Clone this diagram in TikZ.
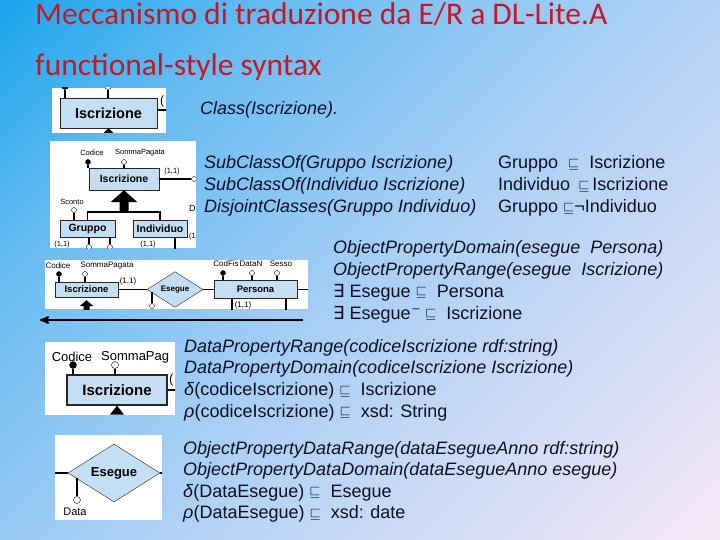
\documentclass[tikz,border=0pt]{standalone}
\usepackage{fontspec}
\setmainfont{Liberation Sans}
\newfontfamily\titlefont{Carlito}
\newfontfamily\symfont{DejaVu Sans}
\usepackage{tikz}
\usetikzlibrary{arrows}
\usetikzlibrary{calc}
\usetikzlibrary{positioning}
\usetikzlibrary{shapes.geometric}

\definecolor{titlered}{RGB}{196,24,38}
\definecolor{bodyink}{RGB}{12,16,38}
\definecolor{erfill}{RGB}{196,222,244}
\definecolor{bgblue}{RGB}{26,165,236}
\definecolor{bgmid}{RGB}{166,206,245}
\definecolor{bgpink}{RGB}{247,232,247}
\colorlet{bgsky}{bgmid!55!bgblue}

\pgfdeclareverticalshading{slidebg}{100bp}{%
  color(0bp)=(bgpink); color(14.6bp)=(bgpink); color(50bp)=(bgmid);
  color(70bp)=(bgsky); color(85.4bp)=(bgblue); color(100bp)=(bgblue)}

\newcommand{\incl}{{\fontsize{14}{14}\selectfont\raisebox{0.5pt}{$\sqsubseteq$}}}
\newcommand{\exi}{{\symfont\itshape ∃}}

\begin{document}
\begin{tikzpicture}[x=1pt, y=-1pt, >=stealth']

    % TikZ styles for drawing %%%%%%%%%%%%%%%%%%%%%%%%%%%%%%%%%%%%%%%%%%%%%%%%%%%%%%
    \tikzstyle{shot} = [fill=white]
    \tikzstyle{entity} = [draw=black!85,fill=erfill,rectangle,inner sep=0pt]
    \tikzstyle{relation} = [draw=black!85,fill=erfill,diamond,inner sep=0pt]
    \tikzstyle{keyattr} = [circle,fill=black,draw=black,inner sep=0pt]
    \tikzstyle{attr} = [circle,fill=white,draw=black,inner sep=0pt]
    \tikzstyle{tag} = [inner sep=0pt]
    \tikzstyle{line} = [black,line width=1.2pt]
    \tikzstyle{isa} = [fill=black]
    \tikzstyle{connector} = [->,line width=2pt]
    \tikzstyle{title} = [anchor=base west,inner sep=0pt,text=titlered,font=\titlefont\fontsize{31.5}{36}\selectfont]
    \tikzstyle{plain} = [anchor=base west,inner sep=0pt,text=bodyink,font=\fontsize{18}{21}\selectfont]
    \tikzstyle{owl} = [anchor=base west,inner sep=0pt,text=bodyink,font=\fontsize{18}{21}\selectfont\itshape]

    % Slide background %%%%%%%%%%%%%%%%%%%%%%%%%%%%%%%%%%%%%%%%%%%%%%%%%%%%%%%%%%%%%%%%
    \shade[shading=slidebg, shading angle=45] (0,0) rectangle (720,540);
    \useasboundingbox (0,0) rectangle (720,540);

    \node[title] (head1) at (35,25) {Meccanismo di traduzione da E/R a DL-Lite.A};
    \node[title] (head2) at (35,76) {functional-style syntax};

    % Picture 1: the entity alone %%%%%%%%%%%%%%%%%%%%%%%%%%%%%%%%%%%%%%%%%%%%%%%%%%%%
    \begin{scope}[font=\fontsize{12}{14}\selectfont, entity/.append style={font=\bfseries\fontsize{14.5}{17}\selectfont}]
      \clip (52,88) rectangle (166,133);
      \fill[shot] (52,88) rectangle (166,133);
      \node[entity, minimum width=97, minimum height=30] (isc1) at (108.5,113) {Iscrizione};
      \node[keyattr, minimum size=7] (codice1) at (65,86) {};
      \node[attr, minimum size=7] (somma1) at (108,86) {};
      \coordinate (out1) at (168,110);
      \draw[line] (codice1) -- (codice1 |- isc1.north);
      \draw[line] (somma1) -- (somma1 |- isc1.north);
      \draw[line] (isc1.east |- out1) -- (out1);
      \node[tag, anchor=west] (card1) at (160,101) {(};
      \fill[isa] (isc1.south) -- ++(-8,8) -- ++(16,0) -- cycle;
    \end{scope}

    % Picture 2: generalization %%%%%%%%%%%%%%%%%%%%%%%%%%%%%%%%%%%%%%%%%%%%%%%%%%%%%
    \begin{scope}[font=\fontsize{7.5}{9}\selectfont, entity/.append style={font=\bfseries\fontsize{10.5}{12}\selectfont}]
      \clip (50,141) rectangle (196,248);
      \fill[shot] (50,141) rectangle (196,248);
      \node[entity, minimum width=70, minimum height=22] (isc2) at (124,179) {Iscrizione};
      \node[entity, minimum width=55, minimum height=17] (grp2) at (87.5,228.5) {Gruppo};
      \node[entity, minimum width=54, minimum height=17] (ind2) at (160,228.5) {Individuo};
      \node[keyattr, minimum size=5] (codice2) at (88,162) {};
      \node[attr, minimum size=5] (somma2) at (124,162) {};
      \node[attr, minimum size=5] (sconto2) at (74,210) {};
      \node[attr, minimum size=5] (rel2) at (194,179) {};
      \node[attr, minimum size=5] (low2a) at (89,247) {};
      \node[attr, minimum size=5] (low2b) at (110,247) {};
      \coordinate (hub2) at ($(isc2.south)+(0,22)$);
      \coordinate (low2c) at (175,250);
      \draw[line] (codice2) -- (codice2 |- isc2.north);
      \draw[line] (somma2) -- (somma2 |- isc2.north);
      \draw[line] (sconto2) -- (sconto2 |- grp2.north);
      \draw[line] (isc2.east) -- (rel2);
      \draw[line] (low2a) -- (low2a |- grp2.south);
      \draw[line] (low2b) -- (low2b |- grp2.south);
      \draw[line] (low2c) -- (low2c |- ind2.south);
      \draw[line, line width=1.6pt] (grp2.north) |- (hub2) -| (ind2.north);
      \fill[isa] (isc2.south) -- ++(-13.5,12) -- ++(9,0) -- ++(0,10) -- ++(9,0) -- ++(0,-10) -- ++(9,0) -- cycle;
      \node[tag] (codlab2) at (92,153) {Codice};
      \node[tag] (somlab2) at (140,153) {SommaPagata};
      \node[tag] (scolab2) at (72,202) {Sconto};
      \node[tag] (card2a) at (172,172) {(1,1)};
      \node[tag] (card2b) at (62,245) {(1,1)};
      \node[tag] (card2c) at (148,245) {(1,1)};
      \node[tag, anchor=west, font=\fontsize{9}{10}\selectfont] (dlab2) at (189,208) {D};
      \node[tag, anchor=west] (card2d) at (189,237) {(1};
    \end{scope}

    % Picture 3: the relationship %%%%%%%%%%%%%%%%%%%%%%%%%%%%%%%%%%%%%%%%%%%%%%%%%%%%
    \begin{scope}[font=\fontsize{8}{9}\selectfont, entity/.append style={font=\bfseries\fontsize{9.5}{11}\selectfont}, relation/.append style={font=\bfseries\fontsize{8}{10}\selectfont}]
      \clip (45,260) rectangle (308,309);
      \fill[shot] (45,260) rectangle (308,309);
      \node[entity, minimum width=63, minimum height=15] (isc3) at (86.5,289.5) {Iscrizione};
      \node[relation, minimum width=56, minimum height=30] (ese3) at (175,289.5) {Esegue};
      \node[entity, minimum width=83, minimum height=18] (per3) at (255.5,289.5) {Persona};
      \node[keyattr, minimum size=5] (codice3) at (59,274) {};
      \node[attr, minimum size=5] (somma3) at (85,274) {};
      \node[keyattr, minimum size=5] (codfis3) at (223,273) {};
      \node[attr, minimum size=5] (datan3) at (252,273) {};
      \node[attr, minimum size=5] (sesso3) at (277,273) {};
      \node[attr, minimum size=5] (data3) at (152,306) {};
      \coordinate (out3) at (310,289.5);
      \coordinate (low3a) at (232,312);
      \coordinate (low3b) at (286,312);
      \draw[line] (isc3) -- (ese3);
      \draw[line] (ese3) -- (per3);
      \draw[line] (per3) -- (out3);
      \draw[line] (codice3) -- (codice3 |- isc3.north);
      \draw[line] (somma3) -- (somma3 |- isc3.north);
      \draw[line] (codfis3) -- (codfis3 |- per3.north);
      \draw[line] (datan3) -- (datan3 |- per3.north);
      \draw[line] (sesso3) -- (sesso3 |- per3.north);
      \draw[line] (data3) -- (data3 |- ese3.186.6);
      \draw[line] (low3a) -- (low3a |- per3.south);
      \draw[line] (low3b) -- (low3b |- per3.south);
      \fill[isa] ($(isc3.south)+(0,3)$) -- ++(-7,6) -- ++(4,0) -- ++(0,5) -- ++(6,0) -- ++(0,-5) -- ++(4,0) -- cycle;
      \node[tag] (codlab3) at (58,266) {Codice};
      \node[tag] (somlab3) at (107,266) {SommaPagata};
      \node[tag] (cflab3) at (226,264) {CodFis};
      \node[tag] (dnlab3) at (251,264) {DataN};
      \node[tag] (sslab3) at (281,264) {Sesso};
      \node[tag] (card3a) at (128,281) {(1,1)};
      \node[tag] (card3b) at (243,305) {(1,1)};
    \end{scope}

    \coordinate (arrowtail) at (303,320);
    \coordinate (arrowtip) at (40,320);
    \draw[connector] (arrowtail) -- (arrowtip);

    % Picture 4: the key attribute %%%%%%%%%%%%%%%%%%%%%%%%%%%%%%%%%%%%%%%%%%%%%%%%%%%
    \begin{scope}[font=\fontsize{13}{15}\selectfont, entity/.append style={font=\bfseries\fontsize{15}{18}\selectfont}, line/.append style={line width=1.8pt}]
      \clip (45,342) rectangle (175,415);
      \fill[shot] (45,342) rectangle (175,415);
      \node[entity, minimum width=100, minimum height=30, line width=1.2pt] (isc4) at (117,390) {Iscrizione};
      \node[keyattr, minimum size=7] (codice4) at (73,365) {};
      \node[attr, minimum size=7] (somma4) at (115,365) {};
      \coordinate (out4) at (177,390);
      \draw[line] (codice4) -- (codice4 |- isc4.north);
      \draw[line] (somma4) -- (somma4 |- isc4.north);
      \draw[line] (isc4.east) -- (out4);
      \fill[isa] (isc4.south) -- ++(-7,9) -- ++(14,0) -- cycle;
      \node[tag] (codlab4) at (72,357) {Codice};
      \node[tag, anchor=west] (somlab4) at (101,357) {SommaPag};
      \node[tag, anchor=west] (card4) at (169,380) {(};
    \end{scope}

    % Picture 5: the relationship attribute %%%%%%%%%%%%%%%%%%%%%%%%%%%%%%%%%%%%%%%%%%
    \begin{scope}[font=\fontsize{11}{13}\selectfont, relation/.append style={font=\bfseries\fontsize{13}{15}\selectfont}, line/.append style={line width=1.6pt}]
      \clip (55,435) rectangle (162,520);
      \fill[shot] (55,435) rectangle (162,520);
      \node[relation, minimum width=92, minimum height=50] (ese5) at (114,473) {Esegue};
      \node[attr, minimum size=7] (data5) at (77,500) {};
      \coordinate (in5) at (53,473);
      \coordinate (out5) at (164,473);
      \draw[line] (in5) -- (ese5.west);
      \draw[line] (ese5.east) -- (out5);
      \draw[line] (data5) -- (data5 |- ese5.187.5);
      \node[tag] (datlab5) at (75,512) {Data};
    \end{scope}

    % Functional-style axioms and DL axioms %%%%%%%%%%%%%%%%%%%%%%%%%%%%%%%%%%%%%%%%%%
    \node[owl] (classdecl) at (200,115) {Class(Iscrizione).};

    \node[owl] (sub1) at (204,169) {SubClassOf(Gruppo Iscrizione)};
    \node[owl] (sub2) at (204,191) {SubClassOf(Individuo Iscrizione)};
    \node[owl] (disj) at (204,213) {DisjointClasses(Gruppo Individuo)};
    \node[plain] (dl1) at (498,169) {Gruppo \ \incl\ \ Iscrizione};
    \node[plain] (dl2) at (498,191) {Individuo \,\incl\,Iscrizione};
    \node[plain] (dl3) at (498,213) {Gruppo \incl{}¬Individuo};

    \node[owl] (dom1) at (333,253) {ObjectPropertyDomain(esegue \ Persona)};
    \node[owl] (rng1) at (333,275) {ObjectPropertyRange(esegue \ Iscrizione)};
    \node[plain] (dl4) at (333,297) {\exi \ Esegue \incl\ \ Persona};
    \node[plain] (dl5) at (333,319) {\exi\ Esegue\textsuperscript{\,\textendash}\ \incl\ \ Iscrizione};

    \node[owl] (rng2) at (184,352) {DataPropertyRange(codiceIscrizione rdf:string)};
    \node[owl] (dom2) at (184,373.5) {DataPropertyDomain(codiceIscrizione Iscrizione)};
    \node[plain] (dl6) at (184,395.5) {\textit{δ}(codiceIscrizione) \incl\ \ Iscrizione};
    \node[plain] (dl7) at (184,417) {\textit{ρ}(codiceIscrizione) \incl\ \ xsd: String};

    \node[owl] (rng3) at (183,454) {ObjectPropertyDataRange(dataEsegueAnno rdf:string)};
    \node[owl] (dom3) at (183,475.5) {ObjectPropertyDataDomain(dataEsegueAnno esegue)};
    \node[plain] (dl8) at (183,497) {\textit{δ}(DataEsegue) \incl\ \ Esegue};
    \node[plain] (dl9) at (183,518.5) {\textit{ρ}(DataEsegue) \incl\ \ xsd: date};

\end{tikzpicture}
\end{document}
